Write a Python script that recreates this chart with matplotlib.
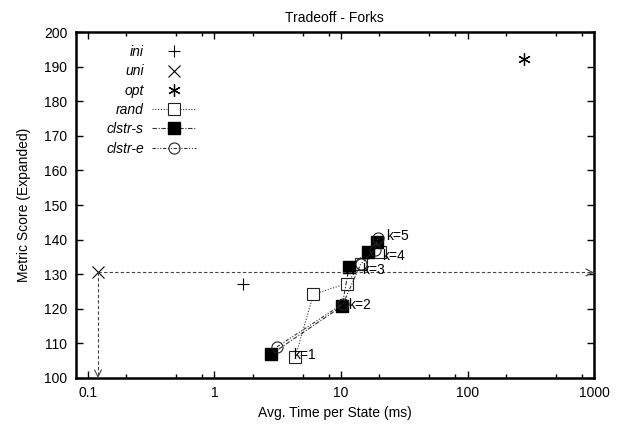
import matplotlib
matplotlib.use("Agg")
import matplotlib.pyplot as plt
from matplotlib.ticker import FixedLocator, NullFormatter

plt.rcParams['font.family'] = ['Liberation Sans', 'DejaVu Sans']

# single points
ini_x, ini_y = [1.69], [127.2]
uni_x, uni_y = [0.12], [130.5]
opt_x, opt_y = [281], [192.2]

# k = 1..5
rand_x = [4.35, 6.05, 11.1, 14.4, 20.3]
rand_y = [106.0, 124.2, 127.3, 132.9, 136.5]
clstr_s_x = [2.81, 10.2, 11.6, 16.4, 19.3]
clstr_s_y = [106.9, 120.8, 132.2, 136.5, 139.4]
clstr_e_x = [3.12, 10.4, 14.3, 18.5, 19.6]
clstr_e_y = [109.0, 121.5, 132.9, 137.0, 140.5]

k_labels = ["k=1", "k=2", "k=3", "k=4", "k=5"]
k_label_x = [4.15, 11.3, 14.8, 21.0, 22.6]
k_label_y = [106.6, 121.1, 131.3, 135.2, 141.0]


def main():
    fig = plt.figure(figsize=(6.23, 4.24), dpi=100)
    ax = fig.add_axes([0.1215, 0.1085, 0.832, 0.816])
    ax.set_xscale('log')
    ax.set_xlim(0.08, 1000)
    ax.set_ylim(100, 200)

    fs = 10
    lc = '#333333'
    ax.plot(ini_x, ini_y, ls='none', marker='+', ms=8, mew=0.8, color='black', label='ini')
    ax.plot(uni_x, uni_y, ls='none', marker='x', ms=8, mew=0.8, color='black', label='uni')
    ax.plot(opt_x, opt_y, ls='none', marker=(6, 2, 0), ms=9, mew=0.9, color='black', label='opt')
    ax.plot(rand_x, rand_y, ls=(0, (1, 1.5)), lw=0.8, color=lc, marker='s', ms=8,
            mfc='white', mec='#222222', mew=0.8, label='rand')
    ax.plot(clstr_s_x, clstr_s_y, ls=(0, (4, 1.5, 1, 1.5)), lw=0.8, color=lc, marker='s',
            ms=8, mfc='black', mec='black', label='clstr-s')
    ax.plot(clstr_e_x, clstr_e_y, ls=(0, (3, 1.5, 1, 1.5, 1, 1.5)), lw=0.8, color=lc,
            marker='o', ms=8, mfc='none', mec='#222222', mew=0.8, label='clstr-e')

    for lab, x, y in zip(k_labels, k_label_x, k_label_y):
        ax.text(x, y, lab, fontsize=fs, ha='left', va='center')

    # dashed guide arrows from uni
    ax.plot([uni_x[0], 1000], [uni_y[0], uni_y[0]], ls=(0, (3, 2)), lw=0.8, color='#444444')
    ax.plot([uni_x[0], uni_x[0]], [uni_y[0], 100], ls=(0, (3, 2)), lw=0.8, color='#444444')
    ap = dict(arrowstyle='->,head_length=0.5,head_width=0.25', lw=0.8, color='#444444',
              shrinkA=0, shrinkB=0)
    ax.annotate('', xy=(1000, uni_y[0]), xytext=(990, uni_y[0]), arrowprops=ap)
    ax.annotate('', xy=(uni_x[0], 100), xytext=(uni_x[0], 100.2), arrowprops=ap)

    ax.set_xticks([0.1, 1, 10, 100, 1000])
    ax.set_xticklabels(['0.1', '1', '10', '100', '1000'])
    minors = [m * d for d in [0.01, 0.1, 1, 10, 100] for m in (2, 5, 8)]
    ax.xaxis.set_minor_locator(FixedLocator(minors))
    ax.xaxis.set_minor_formatter(NullFormatter())
    ax.set_yticks(range(100, 201, 10))
    ax.tick_params(which='both', direction='in', top=True, right=True, width=1,
                   labelsize=fs, pad=6)
    ax.tick_params(which='major', length=5)
    ax.tick_params(which='minor', length=3)
    for s in ax.spines.values():
        s.set_linewidth(1.8)

    ax.set_xlabel('Avg. Time per State (ms)', fontsize=fs, labelpad=4)
    ax.set_ylabel('Metric Score (Expanded)', fontsize=fs, labelpad=9)
    ax.set_title('Tradeoff - Forks', fontsize=fs, pad=7)

    leg = ax.legend(loc='upper left', markerfirst=False, alignment='right', frameon=False,
                    fontsize=fs, handlelength=3.2, handletextpad=0.55, labelspacing=0.38,
                    borderaxespad=0.3, bbox_to_anchor=(0.04, 0.99))
    for t in leg.get_texts():
        t.set_fontstyle('italic')

    fig.savefig('out.png', dpi=100)


if __name__ == "__main__":
    main()
